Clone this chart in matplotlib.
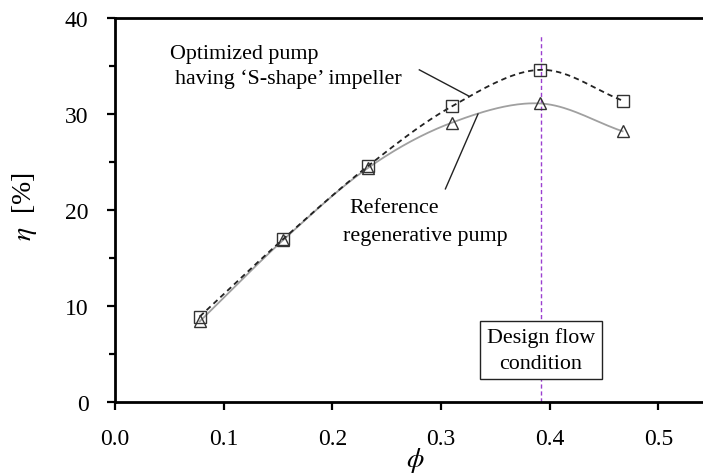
import numpy as np
import matplotlib.pyplot as plt

plt.rcParams['font.family'] = ['Liberation Serif', 'DejaVu Serif']
plt.rcParams['mathtext.fontset'] = 'stix'

# flow coefficient and efficiency
phi = [0.078, 0.155, 0.233, 0.310, 0.391, 0.467]
eta_opt = [8.9, 17.0, 24.6, 30.8, 34.6, 31.4]
eta_ref = [8.4, 16.9, 24.4, 29.1, 31.1, 28.2]
phi_design = 0.392


def smooth(x, y, n=40):
    # Catmull-Rom curve through the points (like a smoothed line in a spreadsheet)
    x = np.asarray(x, float)
    y = np.asarray(y, float)
    px = np.concatenate([[2 * x[0] - x[1]], x, [2 * x[-1] - x[-2]]])
    py = np.concatenate([[2 * y[0] - y[1]], y, [2 * y[-1] - y[-2]]])
    t = np.linspace(0, 1, n)
    xs, ys = [], []
    for i in range(1, len(px) - 2):
        for p, out in ((px, xs), (py, ys)):
            p0, p1, p2, p3 = p[i - 1], p[i], p[i + 1], p[i + 2]
            out.extend(0.5 * ((2 * p1) + (-p0 + p2) * t
                              + (2 * p0 - 5 * p1 + 4 * p2 - p3) * t ** 2
                              + (-p0 + 3 * p1 - 3 * p2 + p3) * t ** 3))
    return np.array(xs), np.array(ys)


fig = plt.figure(figsize=(7.03, 4.77), dpi=100)
ax = fig.add_axes([115 / 703, 74 / 477, 1 - 115 / 703, 384 / 477])

sx, sy = smooth(phi, eta_ref)
ax.plot(sx, sy, color='#a0a0a0', lw=1.3, zorder=2)
sx, sy = smooth(phi, eta_opt)
ax.plot(sx, sy, color='#222222', lw=1.3, ls=(0, (3, 2.2)), zorder=3)

ax.plot(phi, eta_ref, ls='none', marker='^', ms=9, mfc='none', mec='#333333', mew=1.0, zorder=4)
ax.plot(phi, eta_opt, ls='none', marker='s', ms=8.5, mfc='none', mec='#333333', mew=1.0, zorder=4)

ax.plot([phi_design, phi_design], [0, 38.3], color='#9b3fd0', lw=1.0, ls=(0, (3, 2)), zorder=1)

ax.set_xlim(0, 0.541)
ax.set_ylim(0, 40)
ax.set_xticks(np.arange(0, 0.51, 0.1))
ax.set_xticklabels(['0.0', '0.1', '0.2', '0.3', '0.4', '0.5'])
ax.set_yticks([0, 10, 20, 30, 40])
ax.set_yticks([5, 15, 25, 35], minor=True)
ax.tick_params(axis='both', which='major', direction='out', length=6, width=1.6,
               labelsize=17)
ax.tick_params(axis='x', which='major', pad=13)
ax.tick_params(axis='y', which='major', pad=13)
ax.tick_params(axis='y', which='minor', direction='out', length=4, width=1.6)
ax.spines['right'].set_visible(False)
for s in ('left', 'top', 'bottom'):
    ax.spines[s].set_linewidth(2.0)

ax.set_xlabel(r'$\phi$', fontsize=20)
ax.xaxis.set_label_coords((415 - 115) / 588, -(446 - 403) / 384)
ax.set_ylabel(r'$\eta$  [%]', fontsize=20)
ax.yaxis.set_label_coords(-(115 - 39) / 588, (403 - 207) / 384)

fs = 15.8
ax.text(0.051, 36.3, 'Optimized pump', fontsize=fs, va='center', ha='left')
ax.text(0.055, 33.7, 'having \u2018S-shape\u2019 impeller', fontsize=fs, va='center', ha='left')
ax.plot([0.280, 0.325], [34.6, 31.9], color='#222222', lw=1.0)

ax.text(0.216, 20.3, 'Reference', fontsize=fs, va='center', ha='left')
ax.text(0.210, 17.3, 'regenerative pump', fontsize=fs, va='center', ha='left')
ax.plot([0.304, 0.334], [22.2, 30.0], color='#222222', lw=1.0)

ax.text(phi_design, 5.4, 'Design flow\ncondition', fontsize=fs, ha='center', va='center',
        linespacing=1.45,
        bbox=dict(boxstyle='square,pad=0.3', fc='white', ec='#222222', lw=1.0), zorder=5)

fig.savefig('out.png', dpi=100)
